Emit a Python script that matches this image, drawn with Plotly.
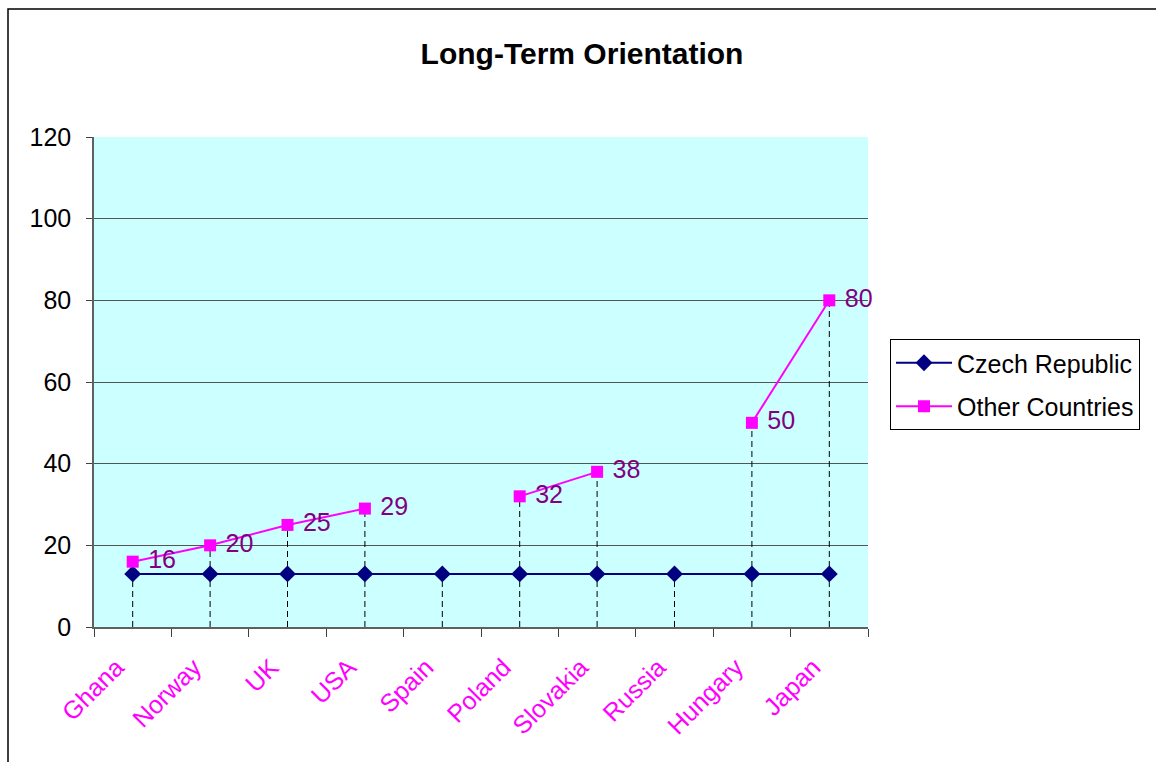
import plotly.graph_objects as go

countries = ["Ghana", "Norway", "UK", "USA", "Spain", "Poland", "Slovakia", "Russia", "Hungary", "Japan"]
czech = [13, 13, 13, 13, 13, 13, 13, 13, 13, 13]
others = [16, 20, 25, 29, None, 32, 38, None, 50, 80]
y_ticks = [0, 20, 40, 60, 80, 100, 120]

FONT = "Arial, Liberation Sans, sans-serif"

fig = go.Figure()

# dashed drop lines from the highest point of each category to the axis
for c, a, b in zip(countries, czech, others):
    top = max(v for v in (a, b) if v is not None)
    fig.add_trace(go.Scatter(
        x=[c, c], y=[0, top], mode="lines",
        line=dict(color="black", width=1, dash="6px,4px"),
        showlegend=False, hoverinfo="skip",
    ))

fig.add_trace(go.Scatter(
    x=countries, y=czech, mode="lines+markers", name="Czech Republic",
    legendgroup="cz",
    line=dict(color="#000080", width=2),
    marker=dict(symbol="diamond", size=13, color="#000080"),
))

fig.add_trace(go.Scatter(
    x=countries, y=others, mode="lines+markers+text", name="Other Countries",
    legendgroup="oc",
    line=dict(color="#FF00FF", width=2),
    marker=dict(symbol="square", size=12, color="#FF00FF"),
    text=[(" " + str(v)) if v is not None else "" for v in others],
    textposition="middle right",
    textfont=dict(family=FONT, size=25, color="#800080"),
    connectgaps=False, cliponaxis=False,
))

# outer chart border
L, R, T, B = 94, 868, 137, 627
W, H = 1156, 762
px = lambda x: (x - L) / (R - L)
py = lambda y: (B - y) / (B - T)
fig.add_shape(type="rect", xref="paper", yref="paper",
              x0=px(8), x1=px(1162), y0=py(768), y1=py(9),
              line=dict(color="black", width=1.5), fillcolor="rgba(0,0,0,0)",
              layer="below")

fig.update_layout(
    width=W, height=H,
    margin=dict(l=L, r=W - R, t=T, b=H - B),
    paper_bgcolor="white",
    plot_bgcolor="#CCFFFF",
    font=dict(family=FONT, size=25, color="black"),
    title=dict(text="<b>Long-Term Orientation</b>", x=582 / W, xanchor="center",
               y=1 - 53 / H, yanchor="middle", font=dict(size=30, color="black")),
    showlegend=True,
    legend=dict(x=px(890), xanchor="left", y=py(339), yanchor="top",
                bordercolor="black", borderwidth=1, bgcolor="white",
                font=dict(size=25, color="black"), itemwidth=56,
                tracegroupgap=8),
    xaxis=dict(
        type="category", categoryorder="array", categoryarray=countries,
        range=[-0.5, len(countries) - 0.5],
        tickson="boundaries", ticks="outside", ticklen=8, tickcolor="#404040",
        showgrid=False, showline=True, linecolor="#606060", linewidth=1.5,
        tickangle=-45, tickfont=dict(size=25, color="#FF00FF"),
        ticklabelshift=-16, ticklabelstandoff=14,
    ),
    yaxis=dict(
        range=[0, 120], tickvals=y_ticks, ticks="outside", ticklen=6,
        tickcolor="#404040", showline=True, linecolor="#606060", linewidth=1.5,
        showgrid=True, gridcolor="#555555", gridwidth=1, zeroline=False,
        tickfont=dict(size=25, color="black"), ticklabelstandoff=10,
    ),
)

fig.write_html("out.html")
